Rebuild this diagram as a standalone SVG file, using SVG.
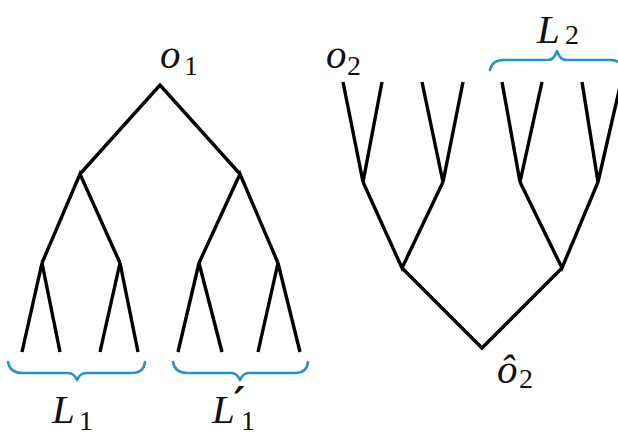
<svg xmlns="http://www.w3.org/2000/svg" width="618" height="435" viewBox="0 0 618 435">
<style>
.e{fill:none;stroke:#000;stroke-width:3.4;stroke-linejoin:miter;stroke-linecap:butt}
.b{fill:none;stroke:#2a93c6;stroke-width:2.6;stroke-linejoin:round;stroke-linecap:round}
.m{font-family:"Liberation Serif","DejaVu Serif",serif;font-style:italic;font-size:41px;fill:#111}
.s{font-style:normal;font-size:28px}
.p{font-family:"DejaVu Sans","Liberation Sans",sans-serif;font-style:oblique;font-weight:bold;font-size:40px}
</style>
<rect width="618" height="435" fill="#fff"/>
<g id="connectors">
<path class="e" d="M80,174 L160,85 L240,174"/>
<path class="e" d="M42,263 L80,174 L120,263"/>
<path class="e" d="M199,263 L240,174 L278,263"/>
<path class="e" d="M22,352 L42,263 L60,352"/>
<path class="e" d="M100,352 L120,263 L138,352"/>
<path class="e" d="M178,352 L199,263 L222,352"/>
<path class="e" d="M258,352 L278,263 L300,352"/>
<path class="e" d="M402,268 L482,348 L562,268"/>
<path class="e" d="M363,182 L402,268 L443,182"/>
<path class="e" d="M520,182 L562,268 L598,182"/>
<path class="e" d="M343,82 L363,182 L382,82"/>
<path class="e" d="M422,82 L443,182 L463,82"/>
<path class="e" d="M502,82 L520,182 L542,82"/>
<path class="e" d="M582,82 L598,182 L621,82"/>
</g>
<g id="brace-L1"><path class="b" d="M8,362 Q10,373 22,373 L68,373 Q74,373 77,380 Q80,373 86,373 L132,373 Q144,373 145,362"/></g>
<g id="brace-L1p"><path class="b" d="M173,362 Q175,373 187,373 L231,373 Q237,373 240,380 Q243,373 249,373 L295,373 Q307,373 308,362"/></g>
<g id="brace-L2"><path class="b" d="M490,70 Q492,60 504,60 L548,60 Q554,60 557,51 Q560,60 566,60 L610,60 Q622,60 624,70"/></g>
<g id="label-o1"><text class="m" x="160" y="68">o<tspan class="s" x="184" y="75">1</tspan></text></g>
<g id="label-o2"><text class="m" x="326" y="68">o<tspan class="s" x="347" y="75">2</tspan></text></g>
<g id="label-o2hat"><text class="m" x="497" y="383">ô<tspan class="s" x="519" y="388">2</tspan></text></g>
<g id="label-L1"><text class="m" x="52" y="423">L<tspan class="s" x="79" y="430">1</tspan></text></g>
<g id="label-L1p"><text class="m" x="212" y="423">L<tspan class="p" x="234" y="416">′</tspan><tspan class="s" x="241" y="430">1</tspan></text></g>
<g id="label-L2"><text class="m" x="537" y="43">L<tspan class="s" x="565" y="44">2</tspan></text></g>
</svg>
